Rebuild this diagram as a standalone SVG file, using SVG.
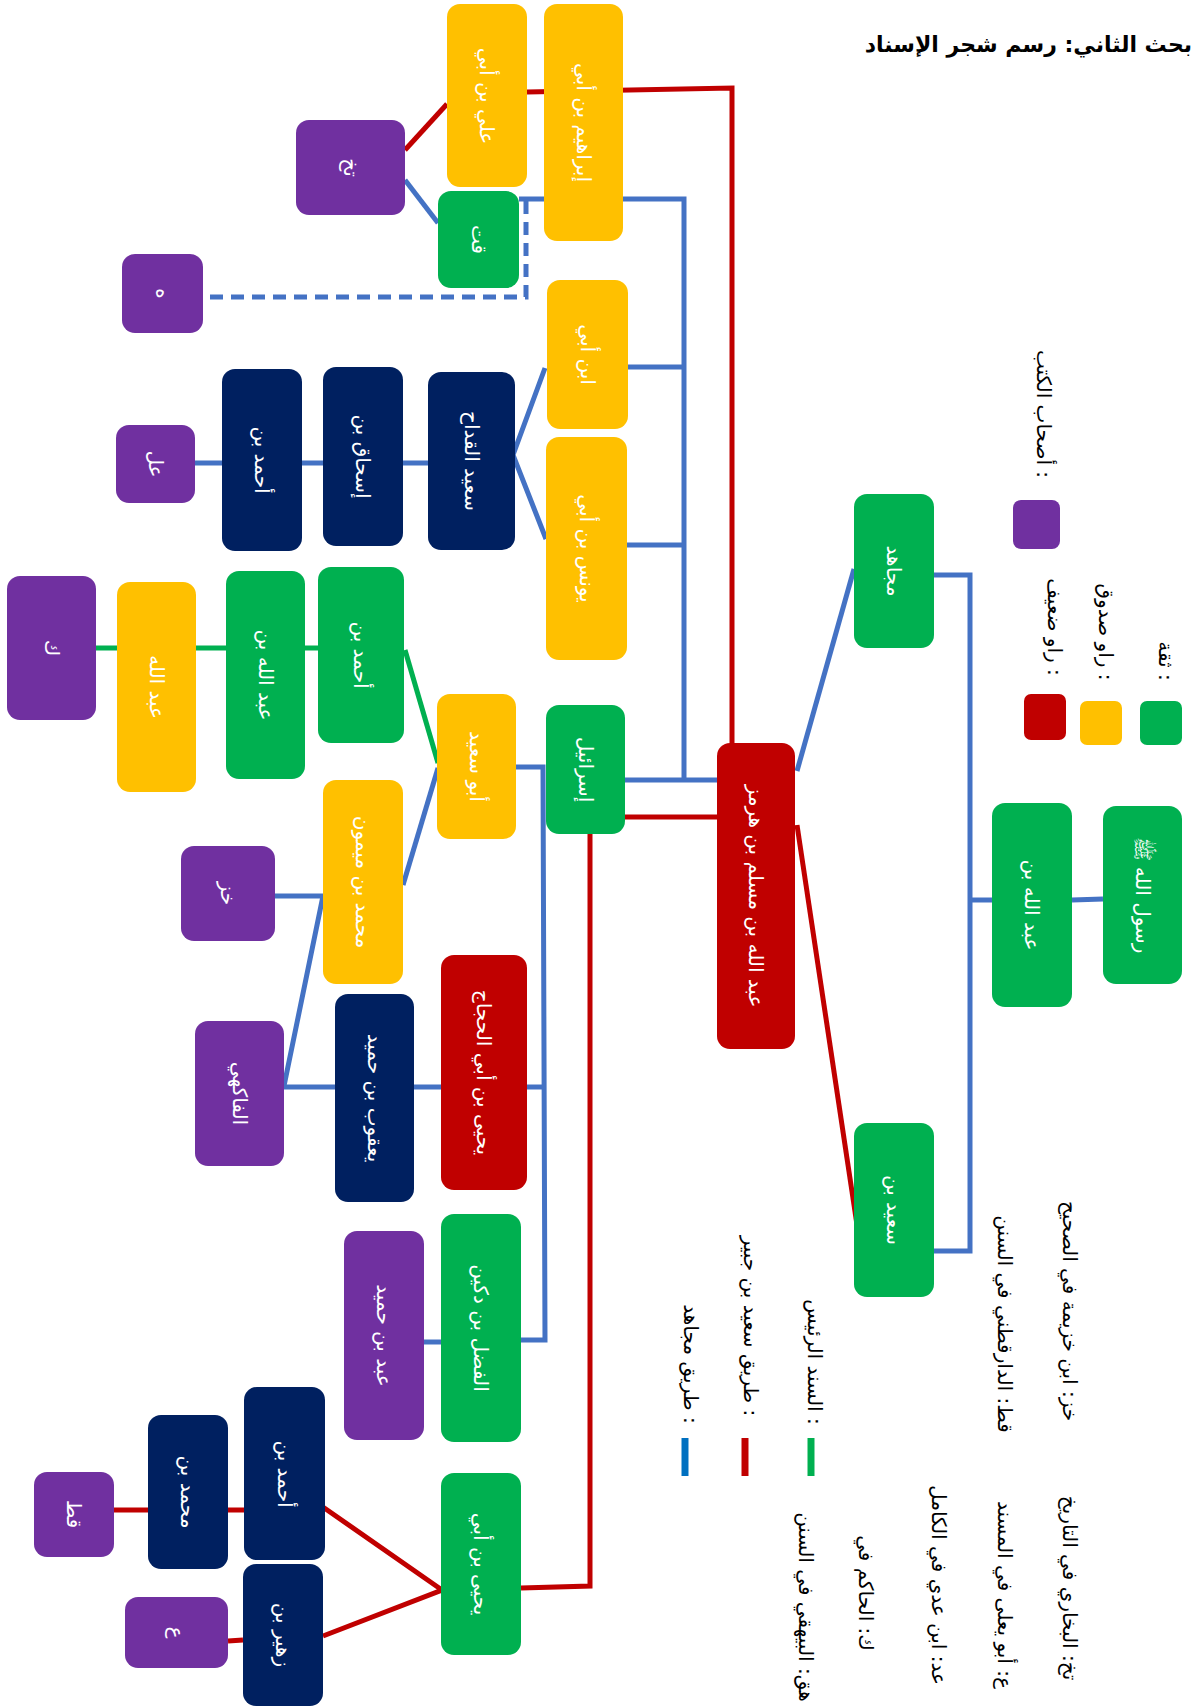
<svg xmlns="http://www.w3.org/2000/svg" width="1192" height="1708" viewBox="0 0 1192 1708">
<style>
.g{fill:#00B050}.y{fill:#FFC000}.r{fill:#C00000}.n{fill:#002060}.p{fill:#7030A0}
.t{font-family:"DejaVu Sans",sans-serif;font-size:20px;fill:#fff;text-anchor:middle;dominant-baseline:central;direction:rtl}
.lg{font-family:"DejaVu Sans",sans-serif;font-size:20px;fill:#000;text-anchor:middle;dominant-baseline:central;direction:rtl}
.title{font-family:"DejaVu Sans",sans-serif;font-size:22px;font-weight:bold;fill:#000;direction:rtl}
.cb{fill:none;stroke:#4472C4;stroke-width:5}
.cr{fill:none;stroke:#C00000;stroke-width:5}
.cg{fill:none;stroke:#00B050;stroke-width:5}
.cd{fill:none;stroke:#4472C4;stroke-width:5;stroke-dasharray:13 8}
</style>
<rect width="1192" height="1708" fill="#fff"/>
<text class="title" x="1192" y="52" text-anchor="start">بحث الثاني: رسم شجر الإسناد</text>

<g id="connectors">
<polyline class="cr" points="405,150 447,104"/>
<polyline class="cr" points="527,92 732,88 732,743"/>
<polyline class="cr" points="717,817 625,817"/>
<polyline class="cr" points="590,834 590,1586 521,1588"/>
<polyline class="cr" points="320,1505 442,1590 323,1636"/>
<polyline class="cr" points="113,1510 245,1510"/>
<polyline class="cr" points="228,1641 243,1640"/>
<polyline class="cr" points="797,825 860,1245"/>
<polyline class="cb" points="519,199 684,199 684,780 717,780 625,780"/>
<polyline class="cb" points="628,367 684,367"/>
<polyline class="cb" points="627,545 684,545"/>
<polyline class="cb" points="797,771 854,569"/>
<polyline class="cb" points="934,575 970,575 970,1251 934,1251"/>
<polyline class="cb" points="968,900 992,900"/>
<polyline class="cb" points="1072,900 1103,899"/>
<polyline class="cb" points="405,180 438,223"/>
<polyline class="cd" points="526,201 526,297 203,297"/>
<polyline class="cb" points="545,368 513,455 546,539"/>
<polyline class="cb" points="195,463 428,463"/>
<polyline class="cb" points="516,767 543,767 545,1340 521,1340"/>
<polyline class="cb" points="527,1087 545,1087"/>
<polyline class="cb" points="438,768 403,885"/>
<polyline class="cb" points="270,896 323,896 284,1086"/>
<polyline class="cb" points="284,1087 441,1087"/>
<polyline class="cb" points="424,1342 441,1342"/>
<polyline class="cg" points="438,763 405,650"/>
<polyline class="cg" points="96,648 318,648"/>
</g>

<g id="n1"><rect class="y" x="447" y="4" width="80" height="183" rx="13"/><text class="t" x="487" y="96" transform="rotate(90 487 96)">علي بن أبي</text></g>
<g id="n2"><rect class="y" x="544" y="4" width="79" height="237" rx="13"/><text class="t" x="583.5" y="122.5" transform="rotate(90 583.5 122.5)">إبراهيم بن أبي</text></g>
<g id="n3"><rect class="p" x="296" y="120" width="109" height="95" rx="13"/><text class="t" x="350.5" y="167.5" transform="rotate(90 350.5 167.5)">تخ</text></g>
<g id="n4"><rect class="g" x="438" y="191" width="81" height="97" rx="13"/><text class="t" x="478.5" y="239.5" transform="rotate(90 478.5 239.5)">قت</text></g>
<g id="n5"><rect class="p" x="122" y="254" width="81" height="79" rx="13"/><text class="t" x="162.5" y="293.5" transform="rotate(90 162.5 293.5)">ه</text></g>
<g id="n6"><rect class="y" x="547" y="280" width="81" height="149" rx="13"/><text class="t" x="587.5" y="354.5" transform="rotate(90 587.5 354.5)">ابن أبي</text></g>
<g id="n7"><rect class="y" x="546" y="437" width="81" height="223" rx="13"/><text class="t" x="586.5" y="548.5" transform="rotate(90 586.5 548.5)">يونس بن أبي</text></g>
<g id="n8"><rect class="n" x="428" y="372" width="87" height="178" rx="13"/><text class="t" x="471.5" y="461" transform="rotate(90 471.5 461)">سعيد القداح</text></g>
<g id="n9"><rect class="n" x="323" y="367" width="80" height="179" rx="13"/><text class="t" x="363" y="456.5" transform="rotate(90 363 456.5)">إسحاق بن</text></g>
<g id="n10"><rect class="n" x="222" y="369" width="80" height="182" rx="13"/><text class="t" x="262" y="460" transform="rotate(90 262 460)">أحمد بن</text></g>
<g id="n11"><rect class="p" x="116" y="425" width="79" height="78" rx="13"/><text class="t" x="155.5" y="464" transform="rotate(90 155.5 464)">عل</text></g>
<g id="n12"><rect class="g" x="854" y="494" width="80" height="154" rx="13"/><text class="t" x="894" y="571" transform="rotate(90 894 571)">مجاهد</text></g>
<g id="n15"><rect class="g" x="318" y="567" width="86" height="176" rx="13"/><text class="t" x="361" y="655" transform="rotate(90 361 655)">أحمد بن</text></g>
<g id="n16"><rect class="g" x="226" y="571" width="79" height="208" rx="13"/><text class="t" x="265.5" y="675" transform="rotate(90 265.5 675)">عبد الله بن</text></g>
<g id="n17"><rect class="y" x="117" y="582" width="79" height="210" rx="13"/><text class="t" x="156.5" y="687" transform="rotate(90 156.5 687)">عبد الله</text></g>
<g id="n18"><rect class="p" x="7" y="576" width="89" height="144" rx="13"/><text class="t" x="51.5" y="648" transform="rotate(90 51.5 648)">ك</text></g>
<g id="n19"><rect class="y" x="437" y="694" width="79" height="145" rx="13"/><text class="t" x="476.5" y="766.5" transform="rotate(90 476.5 766.5)">أبو سعيد</text></g>
<g id="n20"><rect class="g" x="546" y="705" width="79" height="129" rx="13"/><text class="t" x="585.5" y="769.5" transform="rotate(90 585.5 769.5)">إسرائيل</text></g>
<g id="n21"><rect class="r" x="717" y="743" width="78" height="306" rx="13"/><text class="t" x="756" y="896" transform="rotate(90 756 896)">عبد الله بن مسلم بن هرمز</text></g>
<g id="n22"><rect class="y" x="323" y="780" width="80" height="204" rx="13"/><text class="t" x="363" y="882" transform="rotate(90 363 882)">محمد بن ميمون</text></g>
<g id="n23"><rect class="p" x="181" y="846" width="94" height="95" rx="13"/><text class="t" x="228" y="893.5" transform="rotate(90 228 893.5)">خز</text></g>
<g id="n24"><rect class="g" x="1103" y="806" width="79" height="178" rx="13"/><text class="t" x="1142.5" y="895" transform="rotate(90 1142.5 895)">رسول الله ﷺ</text></g>
<g id="n25"><rect class="g" x="992" y="803" width="80" height="204" rx="13"/><text class="t" x="1032" y="905" transform="rotate(90 1032 905)">عبد الله بن</text></g>
<g id="n26"><rect class="n" x="335" y="994" width="79" height="208" rx="13"/><text class="t" x="374.5" y="1098" transform="rotate(90 374.5 1098)">يعقوب بن حميد</text></g>
<g id="n27"><rect class="r" x="441" y="955" width="86" height="235" rx="13"/><text class="t" x="484" y="1072.5" transform="rotate(90 484 1072.5)">يحيى بن أبي الحجاج</text></g>
<g id="n28"><rect class="p" x="195" y="1021" width="89" height="145" rx="13"/><text class="t" x="239.5" y="1093.5" transform="rotate(90 239.5 1093.5)">الفاكهي</text></g>
<g id="n29"><rect class="g" x="854" y="1123" width="80" height="174" rx="13"/><text class="t" x="894" y="1210" transform="rotate(90 894 1210)">سعيد بن</text></g>
<g id="n30"><rect class="g" x="441" y="1214" width="80" height="228" rx="13"/><text class="t" x="481" y="1328" transform="rotate(90 481 1328)">الفضل بن دكين</text></g>
<g id="n31"><rect class="p" x="344" y="1231" width="80" height="209" rx="13"/><text class="t" x="384" y="1335.5" transform="rotate(90 384 1335.5)">عبد بن حميد</text></g>
<g id="n32"><rect class="g" x="441" y="1473" width="80" height="182" rx="13"/><text class="t" x="481" y="1564" transform="rotate(90 481 1564)">يحيى بن أبي</text></g>
<g id="n33"><rect class="n" x="244" y="1387" width="81" height="173" rx="13"/><text class="t" x="284.5" y="1474" transform="rotate(90 284.5 1474)">أحمد بن</text></g>
<g id="n34"><rect class="n" x="148" y="1415" width="80" height="154" rx="13"/><text class="t" x="188" y="1492" transform="rotate(90 188 1492)">محمد بن</text></g>
<g id="n35"><rect class="p" x="34" y="1472" width="80" height="85" rx="13"/><text class="t" x="74" y="1514" transform="rotate(90 74 1514)">قط</text></g>
<g id="n36"><rect class="n" x="243" y="1564" width="80" height="142" rx="13"/><text class="t" x="283" y="1635" transform="rotate(90 283 1635)">زهير بن</text></g>
<g id="n37"><rect class="p" x="125" y="1597" width="103" height="71" rx="13"/><text class="t" x="177" y="1632.5" transform="rotate(90 177 1632.5)">ع</text></g>

<g id="legend">
<rect class="p" x="1013" y="500" width="47" height="49" rx="8"/>
<rect class="g" x="1140" y="701" width="42" height="44" rx="7"/>
<rect class="y" x="1080" y="701" width="42" height="44" rx="7"/>
<rect class="r" x="1024" y="694" width="42" height="46" rx="7"/>
<text class="lg" x="1044" y="414" transform="rotate(90 1044 414)">: أصحاب الكتب</text>
<text class="lg" x="1166" y="661" transform="rotate(90 1166 661)">: ثقة</text>
<text class="lg" x="1106" y="632" transform="rotate(90 1106 632)">: راو صدوق</text>
<text class="lg" x="1055" y="627" transform="rotate(90 1055 627)">: راو ضعيف</text>
<text class="lg" x="1070" y="1311" transform="rotate(90 1070 1311)">خز: ابن خزيمة في الصحيح</text>
<text class="lg" x="1070" y="1588" transform="rotate(90 1070 1588)">تخ: البخاري في التاريخ</text>
<text class="lg" x="1005" y="1324" transform="rotate(90 1005 1324)">قط: الدارقطني في السنن</text>
<text class="lg" x="1005" y="1595" transform="rotate(90 1005 1595)">ع: أبو يعلى في المسند</text>
<text class="lg" x="939" y="1585" transform="rotate(90 939 1585)">عد: ابن عدي في الكامل</text>
<text class="lg" x="866" y="1593" transform="rotate(90 866 1593)">ك: الحاكم في</text>
<text class="lg" x="806" y="1607" transform="rotate(90 806 1607)">هق: البيهقي في السنن</text>
<text class="lg" x="815" y="1362" transform="rotate(90 815 1362)">: السند الرئيس</text>
<text class="lg" x="751" y="1326" transform="rotate(90 751 1326)">: طريق سعيد بن جبير</text>
<text class="lg" x="691" y="1364" transform="rotate(90 691 1364)">: طريق مجاهد</text>
<line x1="811" y1="1438" x2="811" y2="1476" stroke="#00B050" stroke-width="7"/>
<line x1="745" y1="1438" x2="745" y2="1476" stroke="#C00000" stroke-width="7"/>
<line x1="685" y1="1438" x2="685" y2="1476" stroke="#0070C0" stroke-width="7"/>
</g>
</svg>
